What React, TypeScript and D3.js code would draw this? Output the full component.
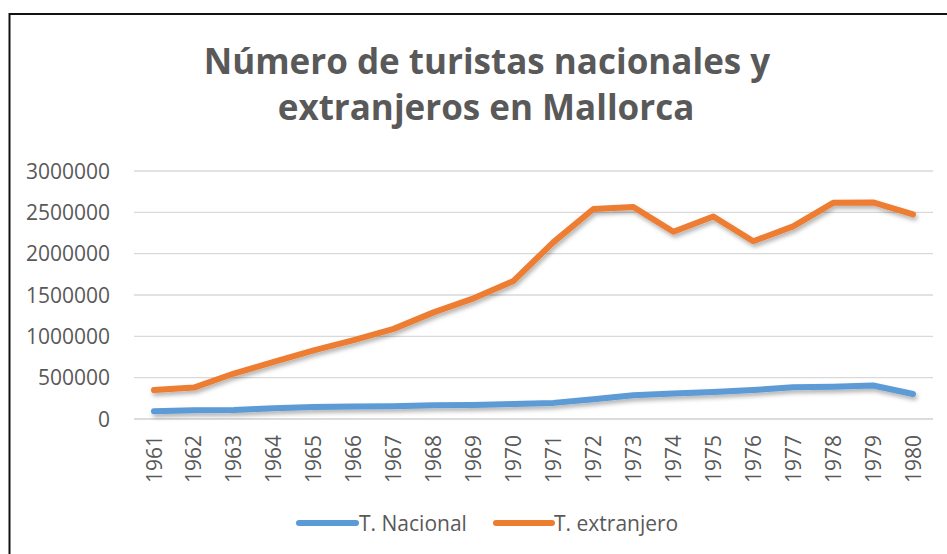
import React from 'react';
import * as d3 from 'd3';

const years = ['1961', '1962', '1963', '1964', '1965', '1966', '1967', '1968', '1969', '1970',
  '1971', '1972', '1973', '1974', '1975', '1976', '1977', '1978', '1979', '1980'];

const nacional = [95000, 105000, 110000, 130000, 145000, 150000, 155000, 165000, 170000, 180000,
  195000, 238000, 288000, 308000, 327000, 350000, 383000, 390000, 405000, 302000];

const extranjero = [350000, 380000, 550000, 690000, 830000, 955000, 1090000, 1290000, 1460000, 1670000,
  2140000, 2540000, 2565000, 2265000, 2450000, 2150000, 2330000, 2615000, 2620000, 2475000];

const yTicks = [0, 500000, 1000000, 1500000, 2000000, 2500000, 3000000];

const series = [
  { name: 'T. Nacional', values: nacional, color: '#5B9BD5' },
  { name: 'T. extranjero', values: extranjero, color: '#ED7D31' },
];

const W = 947;
const H = 554;
const font = '"Open Sans", "Noto Sans", sans-serif';
const grey = '#595959';

export default function App() {
  const x = d3.scaleBand().domain(years).range([134, 933]);
  const y = d3.scaleLinear().domain([0, 3000000]).range([419, 171]);
  const cx = (yr: string) => (x(yr) as number) + x.bandwidth() / 2;

  const line = d3.line<number>()
    .x((_, i) => cx(years[i]))
    .y(d => y(d));

  // legend layout
  const legend = [
    { ...series[0], x0: 299, x1: 356, tx: 359 },
    { ...series[1], x0: 496, x1: 552, tx: 554 },
  ];

  return (
    <svg width={W} height={H} style={{ position: 'absolute', left: 0, top: 0, background: '#fff' }}>
      <defs>
        <filter id="shadow" x="-10%" y="-20%" width="120%" height="160%">
          <feDropShadow dx="1.5" dy="3" stdDeviation="2" floodColor="#000" floodOpacity="0.3" />
        </filter>
      </defs>
      <rect x={0} y={0} width={W} height={H} fill="#fff" />
      {/* chart frame, cut off at right and bottom */}
      <path d={`M9.5,${H} V14 H${W}`} fill="none" stroke="#111" strokeWidth={2} />

      <text x={487} y={74} textAnchor="middle" fontFamily={font} fontWeight="bold" fontSize={35} fill={grey}>
        Número de turistas nacionales y
      </text>
      <text x={486} y={120} textAnchor="middle" fontFamily={font} fontWeight="bold" fontSize={35} fill={grey}>
        extranjeros en Mallorca
      </text>

      {yTicks.map(t => (
        <g key={t}>
          <line x1={134} x2={933} y1={y(t)} y2={y(t)} stroke={t === 0 ? '#D0D0D0' : '#D9D9D9'} strokeWidth={1.3} />
          <text x={110} y={y(t)} dy="0.36em" textAnchor="end" fontFamily={font} fontSize={21} fill={grey}>
            {t}
          </text>
        </g>
      ))}

      {years.map(yr => (
        <text key={yr} transform={`translate(${cx(yr)},435) rotate(-90)`} dy="0.36em" textAnchor="end"
          fontFamily={font} fontSize={21} fill={grey}>
          {yr}
        </text>
      ))}

      <g filter="url(#shadow)">
        {series.map(s => (
          <path key={s.name} d={line(s.values) || ''} fill="none" stroke={s.color} strokeWidth={6}
            strokeLinecap="round" strokeLinejoin="round" />
        ))}
      </g>

      {legend.map(l => (
        <g key={l.name}>
          <line x1={l.x0} x2={l.x1} y1={523} y2={523} stroke={l.color} strokeWidth={6} strokeLinecap="round" />
          <text x={l.tx} y={523} dy="0.36em" fontFamily={font} fontSize={21} fill={grey}>{l.name}</text>
        </g>
      ))}
    </svg>
  );
}
